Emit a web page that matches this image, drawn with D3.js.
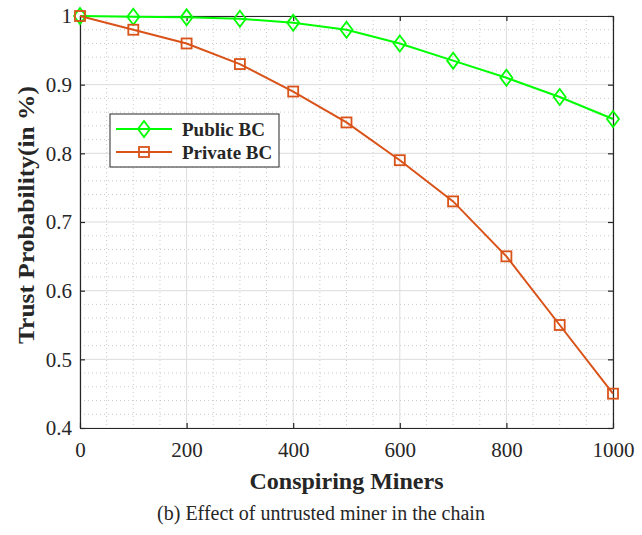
<!DOCTYPE html>
<html>
<head>
  <meta charset="utf-8">
  <title>Trust probability</title>
  <script src="https://d3js.org/d3.v7.min.js"></script>
  <style>
    body { margin: 0; background: #fff; }
    svg text { font-family: "Liberation Serif", "Times New Roman", serif; fill: #262626; }
  </style>
</head>
<body>
<div id="chart"></div>
<script>
var miners = [0, 100, 200, 300, 400, 500, 600, 700, 800, 900, 1000];
var publicBC = [1, 0.999, 0.998, 0.996, 0.99, 0.98, 0.96, 0.935, 0.91, 0.882, 0.85];
var privateBC = [1, 0.98, 0.96, 0.93, 0.89, 0.845, 0.79, 0.73, 0.65, 0.55, 0.45];
var xTicks = [0, 200, 400, 600, 800, 1000];
var yTicks = [0.4, 0.5, 0.6, 0.7, 0.8, 0.9, 1];

var W = 642, H = 535;
var pL = 80, pR = 613, pT = 16, pB = 428;

var svg = d3.select("#chart").append("svg").attr("width", W).attr("height", H);

var x = d3.scaleLinear().domain([0, 1000]).range([pL, pR]);
var y = d3.scaleLinear().domain([0.4, 1]).range([pB, pT]);

// minor grid (dotted)
var xMinor = d3.range(0, 1001, 50).filter(d => d % 200 != 0);
var yMinor = d3.range(40, 101, 2).map(d => d / 100).filter(d => Math.round(d * 100) % 10 != 0);

svg.append("g").selectAll("line").data(xMinor).enter().append("line")
  .attr("x1", d => x(d)).attr("x2", d => x(d)).attr("y1", pT).attr("y2", pB)
  .attr("stroke", "#bdbdbd").attr("stroke-width", 0.8).attr("stroke-dasharray", "1,3");
svg.append("g").selectAll("line").data(yMinor).enter().append("line")
  .attr("y1", d => y(d)).attr("y2", d => y(d)).attr("x1", pL).attr("x2", pR)
  .attr("stroke", "#bdbdbd").attr("stroke-width", 0.8).attr("stroke-dasharray", "1,3");

// major grid
svg.append("g").selectAll("line").data(xTicks).enter().append("line")
  .attr("x1", d => x(d)).attr("x2", d => x(d)).attr("y1", pT).attr("y2", pB)
  .attr("stroke", "#dcdcdc").attr("stroke-width", 1);
svg.append("g").selectAll("line").data(yTicks).enter().append("line")
  .attr("y1", d => y(d)).attr("y2", d => y(d)).attr("x1", pL).attr("x2", pR)
  .attr("stroke", "#dcdcdc").attr("stroke-width", 1);

// axes (ticks inward)
var axisColor = "#262626";
var xb = svg.append("g").attr("transform", "translate(0," + pB + ")")
  .call(d3.axisBottom(x).tickValues(xTicks).tickSizeInner(-5).tickSizeOuter(0).tickPadding(14)
    .tickFormat(d3.format("d")));
var xt = svg.append("g").attr("transform", "translate(0," + pT + ")")
  .call(d3.axisTop(x).tickValues(xTicks).tickSizeInner(-5).tickSizeOuter(0).tickFormat(""));
var yl = svg.append("g").attr("transform", "translate(" + pL + ",0)")
  .call(d3.axisLeft(y).tickValues(yTicks).tickSizeInner(-5).tickSizeOuter(0).tickPadding(8)
    .tickFormat(d => d == 1 ? "1" : d3.format(".1f")(d)));
var yr = svg.append("g").attr("transform", "translate(" + pR + ",0)")
  .call(d3.axisRight(y).tickValues(yTicks).tickSizeInner(-5).tickSizeOuter(0).tickFormat(""));

[xb, xt, yl, yr].forEach(function(g) {
  g.select(".domain").attr("stroke", axisColor).attr("stroke-width", 1.2);
  g.selectAll(".tick line").attr("stroke", axisColor).attr("stroke-width", 1.2);
  g.selectAll(".tick text").attr("font-size", 21).attr("font-family", "Liberation Serif, serif").attr("fill", axisColor);
});

// series
var green = "#00ff00", orange = "#d95319";
var line = d3.line().x((d, i) => x(miners[i])).y(d => y(d));

svg.append("path").datum(publicBC).attr("d", line)
  .attr("fill", "none").attr("stroke", green).attr("stroke-width", 2);
svg.append("path").datum(privateBC).attr("d", line)
  .attr("fill", "none").attr("stroke", orange).attr("stroke-width", 2);

var diamond = "M0,-8L6,0L0,8L-6,0Z";
svg.append("g").selectAll("path").data(publicBC).enter().append("path")
  .attr("transform", (d, i) => "translate(" + x(miners[i]) + "," + y(d) + ")")
  .attr("d", diamond).attr("fill", "none").attr("stroke", green).attr("stroke-width", 1.8);
svg.append("g").selectAll("rect").data(privateBC).enter().append("rect")
  .attr("x", (d, i) => x(miners[i]) - 5).attr("y", d => y(d) - 5)
  .attr("width", 10).attr("height", 10)
  .attr("fill", "none").attr("stroke", orange).attr("stroke-width", 1.8);

// legend
var lg = svg.append("g");
lg.append("rect").attr("x", 110).attr("y", 114).attr("width", 169).attr("height", 53)
  .attr("fill", "#fff").attr("stroke", axisColor).attr("stroke-width", 1);
var items = [{name: "Public BC", c: green, m: "d"}, {name: "Private BC", c: orange, m: "s"}];
items.forEach(function(it, i) {
  var yy = 129 + i * 23;
  lg.append("line").attr("x1", 116).attr("x2", 172).attr("y1", yy).attr("y2", yy)
    .attr("stroke", it.c).attr("stroke-width", 2);
  if (it.m == "d") {
    lg.append("path").attr("transform", "translate(144," + yy + ")").attr("d", diamond)
      .attr("fill", "none").attr("stroke", it.c).attr("stroke-width", 1.8);
  } else {
    lg.append("rect").attr("x", 139).attr("y", yy - 5).attr("width", 10).attr("height", 10)
      .attr("fill", "none").attr("stroke", it.c).attr("stroke-width", 1.8);
  }
  lg.append("text").attr("x", 182).attr("y", yy + 7).text(it.name)
    .attr("font-size", 19).attr("font-weight", "bold").attr("fill", "#000");
});

// axis titles
svg.append("text").attr("x", (pL + pR) / 2).attr("y", 489).attr("text-anchor", "middle")
  .attr("font-size", 24).attr("font-weight", "bold").attr("fill", "#000").text("Conspiring Miners");
svg.append("text").attr("transform", "translate(34,215) rotate(-90)")
  .attr("text-anchor", "middle").attr("font-size", 23).attr("font-weight", "bold").attr("fill", "#000")
  .attr("textLength", 258).attr("lengthAdjust", "spacingAndGlyphs")
  .text("Trust Probability(in %)");

// caption
svg.append("text").attr("x", 321).attr("y", 520).attr("text-anchor", "middle")
  .attr("font-size", 20).attr("fill", "#000").text("(b) Effect of untrusted miner in the chain");
</script>
</body>
</html>
